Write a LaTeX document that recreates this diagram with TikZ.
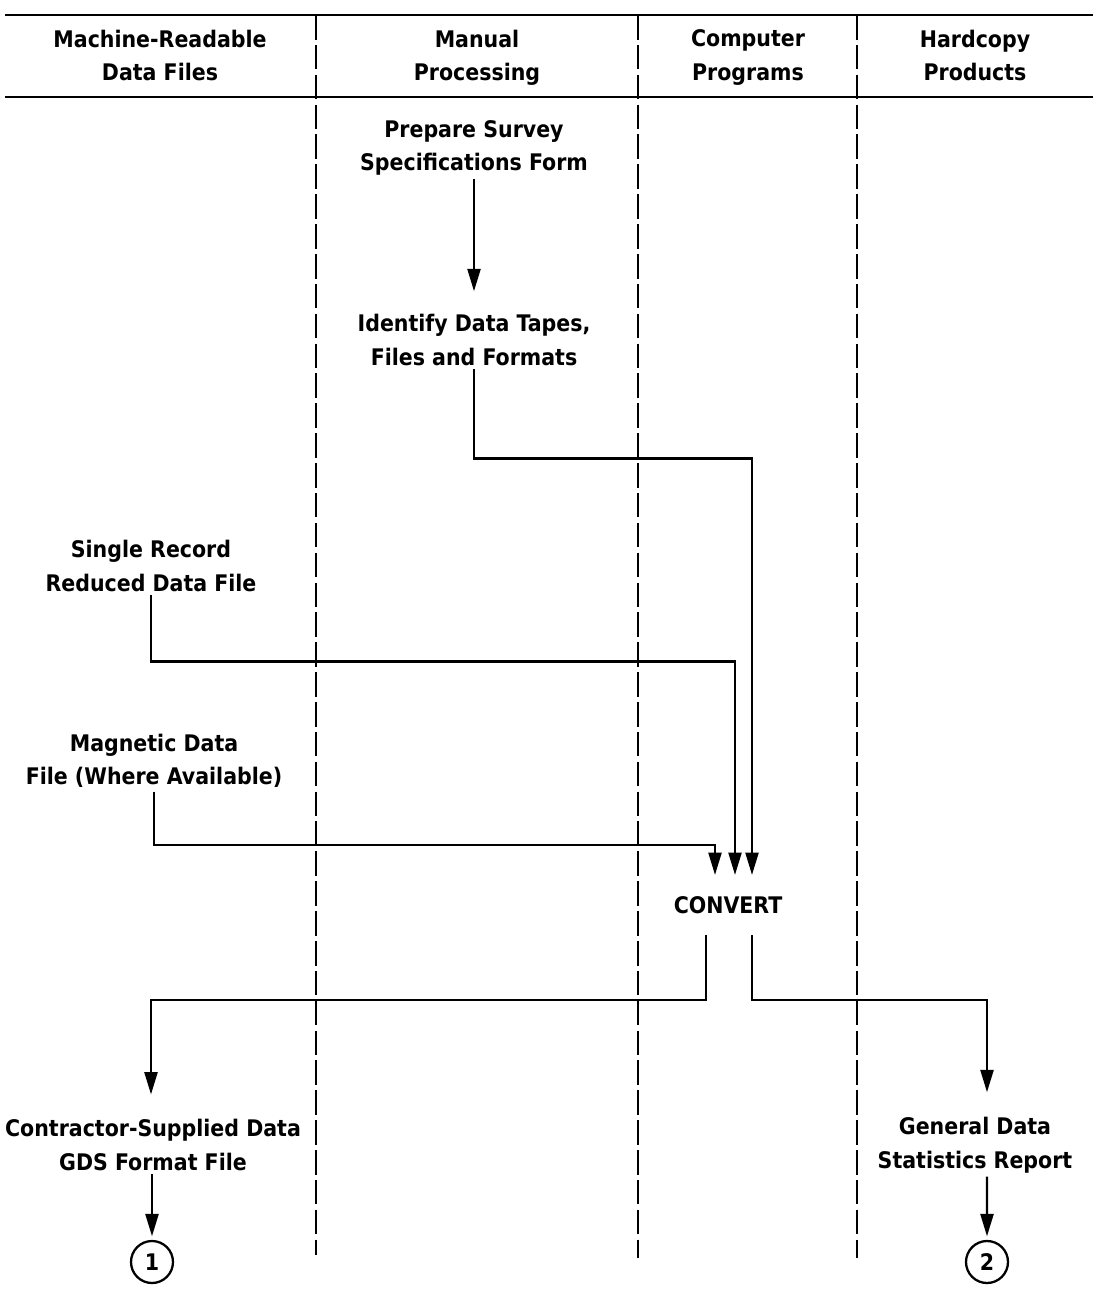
\documentclass[tikz,border=0pt]{standalone}
\usepackage{fontspec}
\setmainfont{DejaVu Sans Condensed}
\usepackage{tikz}
\usetikzlibrary{arrows.meta}
\usetikzlibrary{positioning}
\tikzstyle{lbl}=[align=center, inner sep=2pt, font=\bfseries\fontsize{13}{19}\selectfont]
\tikzstyle{link}=[line width=1.4pt]
\tikzstyle{lane}=[line width=0.9pt, dash pattern=on 14pt off 3pt]
\tikzstyle{conn}=[circle, draw, line width=1.3pt, minimum size=0.84cm, inner sep=0pt, font=\bfseries\fontsize{13}{15}\selectfont]

\begin{document}
\begin{tikzpicture}[x=0.02cm, y=-0.02cm]

\tikzset{>={Triangle[length=0.45cm, width=0.26cm]}}
\tikzset{flow/.style={link, ->}}

\useasboundingbox (0,0) rectangle (1093,1298);

% Header
\node[lbl, anchor=north] (hmach) at (160,26) {Machine-Readable\\Data Files};
\node[lbl, anchor=north] (hman)  at (477,26) {Manual\\Processing};
\node[lbl, anchor=north] (hcomp) at (748,26) {Computer\\Programs};
\node[lbl, anchor=north] (hhard) at (975,26) {Hardcopy\\Products};
\draw[line width=1.6pt] (5,15) -- (1093,15);
\draw[line width=1.6pt] (5,97) -- (1093,97);

% Lanes
\foreach \x/\y in {316/1255, 638/1258, 857/1258}
    \draw[lane] (\x,15) -- (\x,\y);

% Steps
\node[lbl] (prep)   at (474,148)  {Prepare Survey\\Specifications Form};
\node[lbl] (ident)  at (474,340)  {Identify Data Tapes,\\Files and Formats};
\node[lbl] (single) at (151,566)  {Single Record\\Reduced Data File};
\node[lbl] (magn)   at (154,761)  {Magnetic Data\\File (Where Available)};
\node[lbl] (conv)   at (728,905)  {CONVERT};
\node[lbl] (gds)    at (153,1145) {Contractor-Supplied Data\\GDS Format File};
\node[lbl] (rep)    at (975,1145) {General Data\\Statistics Report};
\node[conn] (one)   at (152,1262) {1};
\node[conn] (two)   at (987,1262) {2};

% Ends at CONVERT
\coordinate (inmagn)  at (715,875);
\coordinate (insing)  at (735,875);
\coordinate (inident) at (752,875);
\coordinate (outgds)  at (706,935);
\coordinate (outrep)  at (752,935);

\draw[flow, shorten >=11pt] (prep) -- (ident); % prep -> ident
\draw[flow] (ident.south) -- ++(0,89) -| (inident); % ident -> convert
\draw[flow] (single.south) -- ++(0,66) -| (insing); % single -> convert
\draw[flow] (magn.south) -- ++(0,53) -| (inmagn); % magn -> convert
\draw[flow, shorten >=12pt] (outgds) -- ++(0,65) -| ([xshift=-0.04cm]gds.north); % convert -> gds
\draw[flow, shorten >=12pt] (outrep) -- ++(0,65) -| ([xshift=0.24cm]rep.north); % convert -> rep
\draw[flow, shorten >=2pt] ([xshift=-0.02cm]gds.south) -- (one); % gds -> 1
\draw[flow, shorten >=2pt] ([xshift=0.24cm]rep.south) -- (two); % rep -> 2

\end{tikzpicture}
\end{document}
